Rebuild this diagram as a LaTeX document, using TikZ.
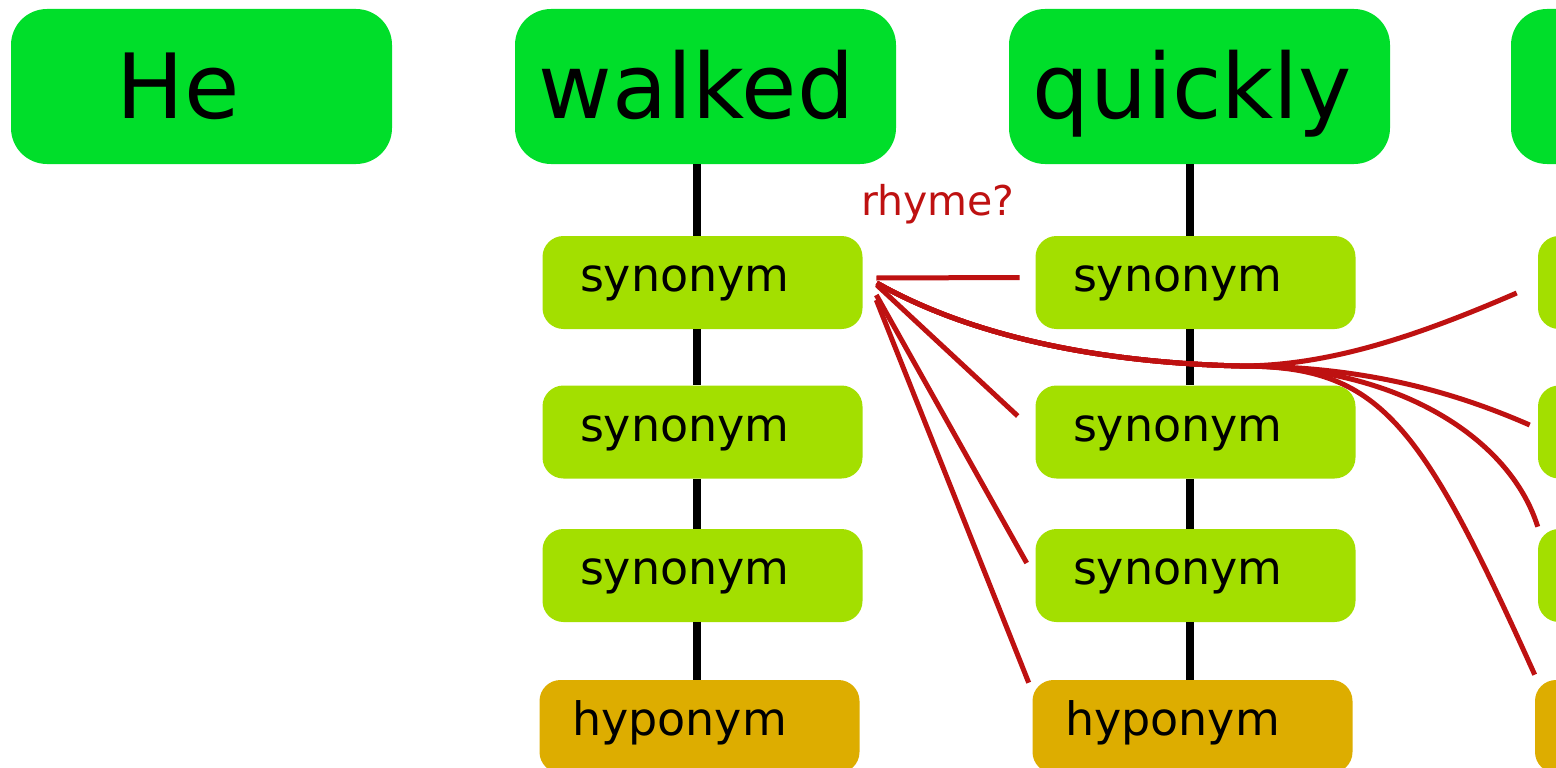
\documentclass[tikz,border=0pt]{standalone}
\usepackage{fontspec}
\setmainfont{DejaVu Sans}
\usepackage{tikz}
\usetikzlibrary{shapes,arrows}

\definecolor{wordgreen}{RGB}{0,222,42}
\definecolor{sensegreen}{RGB}{163,223,0}
\definecolor{hypogold}{RGB}{221,173,0}
\definecolor{rhymered}{RGB}{190,17,17}

\begin{document}
\begin{tikzpicture}[x=1pt, y=1pt, semithick]
			\tikzstyle{word}=[rectangle, rounded corners=36pt, fill=wordgreen, minimum width=381pt, minimum height=155pt, inner sep=0pt, text width=381pt, align=center, text height=86pt, text depth=23pt, font=\fontsize{90}{108}\selectfont]
			\tikzstyle{sense}=[rectangle, rounded corners=21pt, fill=sensegreen, minimum width=320pt, minimum height=93pt, inner sep=0pt, text width=245pt, align=left, text height=30pt, text depth=12pt, font=\fontsize{46}{55}\selectfont]
			\tikzstyle{hypo}=[sense, fill=hypogold, text width=255pt]
			\tikzstyle{stemline}=[line width=8.5pt]
			\tikzstyle{rhyme}=[line width=5pt, draw=rhymered]
			\useasboundingbox (0,0) rectangle (1556,-768);
			\clip (0,0) rectangle (1556,-768);
			\node[word, execute at end node=\kern47pt] (HE) at (201.5,-86.5) {He};
			\node[word, node distance=504pt, execute at end node=\kern18pt] (WALKED) [right of=HE] {walked};
			\node[word, node distance=494pt, execute at end node=\kern14pt] (QUICKLY) [right of=WALKED] {quickly};
			\node[word, node distance=502pt] (NEXT) [right of=QUICKLY] {};
			% senses of walked
			\node[sense, node distance=196pt, xshift=-3pt] (WSYN1) [below of=WALKED] {synonym};
			\node[sense, node distance=149.5pt] (WSYN2) [below of=WSYN1] {synonym};
			\node[sense, node distance=143.5pt] (WSYN3) [below of=WSYN2] {synonym};
			\node[hypo, node distance=151pt, xshift=-3pt] (WHYPO) [below of=WSYN3] {hyponym};
			% senses of quickly
			\node[sense, node distance=196pt, xshift=-4pt] (QSYN1) [below of=QUICKLY] {synonym};
			\node[sense, node distance=149.5pt] (QSYN2) [below of=QSYN1] {synonym};
			\node[sense, node distance=143.5pt] (QSYN3) [below of=QSYN2] {synonym};
			\node[hypo, node distance=151pt, xshift=-3pt] (QHYPO) [below of=QSYN3] {hyponym};
			% senses of the next word
			\node[sense, node distance=196pt, xshift=-3.5pt] (NSYN1) [below of=NEXT] {};
			\node[sense, node distance=149.5pt] (NSYN2) [below of=NSYN1] {};
			\node[sense, node distance=143.5pt] (NSYN3) [below of=NSYN2] {};
			\node[hypo, node distance=151pt, xshift=-3pt] (NHYPO) [below of=NSYN3] {};
			\draw[stemline] ([xshift=-8.5pt]WALKED.south) -- ([xshift=-5.5pt]WSYN1.north);
			\draw[stemline] ([xshift=-5.5pt]WSYN1.south) -- ([xshift=-5.5pt]WSYN2.north);
			\draw[stemline] ([xshift=-5.5pt]WSYN2.south) -- ([xshift=-5.5pt]WSYN3.north);
			\draw[stemline] ([xshift=-5.5pt]WSYN3.south) -- ([xshift=-2.5pt]WHYPO.north);
			\draw[stemline] ([xshift=-9.5pt]QUICKLY.south) -- ([xshift=-5.5pt]QSYN1.north);
			\draw[stemline] ([xshift=-5.5pt]QSYN1.south) -- ([xshift=-5.5pt]QSYN2.north);
			\draw[stemline] ([xshift=-5.5pt]QSYN2.south) -- ([xshift=-5.5pt]QSYN3.north);
			\draw[stemline] ([xshift=-5.5pt]QSYN3.south) -- ([xshift=-2.5pt]QHYPO.north);
			% rhyme links
			\coordinate (FORK) at (1240,-366);
			\draw[rhyme] ([xshift=13.5pt,yshift=4.5pt]WSYN1.east) -- node[pos=0.43, above=51pt, inner sep=0pt, text=rhymered, font=\fontsize{41}{49}\selectfont] {rhyme?} ([xshift=-15.5pt,yshift=5pt]QSYN1.west);
			\draw[rhyme] ([xshift=14pt,yshift=-2.5pt]WSYN1.east) -- ([xshift=-17.5pt,yshift=16pt]QSYN2.west);
			\draw[rhyme] ([xshift=13.5pt,yshift=-12.5pt]WSYN1.east) -- ([xshift=-8.5pt,yshift=12.5pt]QSYN3.west);
			\draw[rhyme] ([xshift=13.5pt,yshift=-17.5pt]WSYN1.east) -- ([xshift=-3.5pt,yshift=-3pt]QHYPO.north west);
			\draw[rhyme] ([xshift=14pt,yshift=-0.5pt]WSYN1.east) .. controls +(83,-47) and +(-160,4) .. (FORK) .. controls +(90,0) and +(-97,-42) .. ([xshift=-21pt,yshift=-10.5pt]NSYN1.west);
			\draw[rhyme] ([xshift=14pt,yshift=-0.5pt]WSYN1.east) .. controls +(83,-47) and +(-160,4) .. (FORK) .. controls +(120,0) and +(-80,35) .. ([xshift=-8pt,yshift=7pt]NSYN2.west);
			\draw[rhyme] ([xshift=14pt,yshift=-0.5pt]WSYN1.east) .. controls +(83,-47) and +(-160,4) .. (FORK) .. controls +(160,0) and +(-27,87) .. ([yshift=2pt]NSYN3.north west);
			\draw[rhyme] ([xshift=14pt,yshift=-0.5pt]WSYN1.east) .. controls +(83,-47) and +(-160,4) .. (FORK) .. controls +(140,0) and +(-115,255) .. ([yshift=5pt]NHYPO.north west);
		\end{tikzpicture}
\end{document}
